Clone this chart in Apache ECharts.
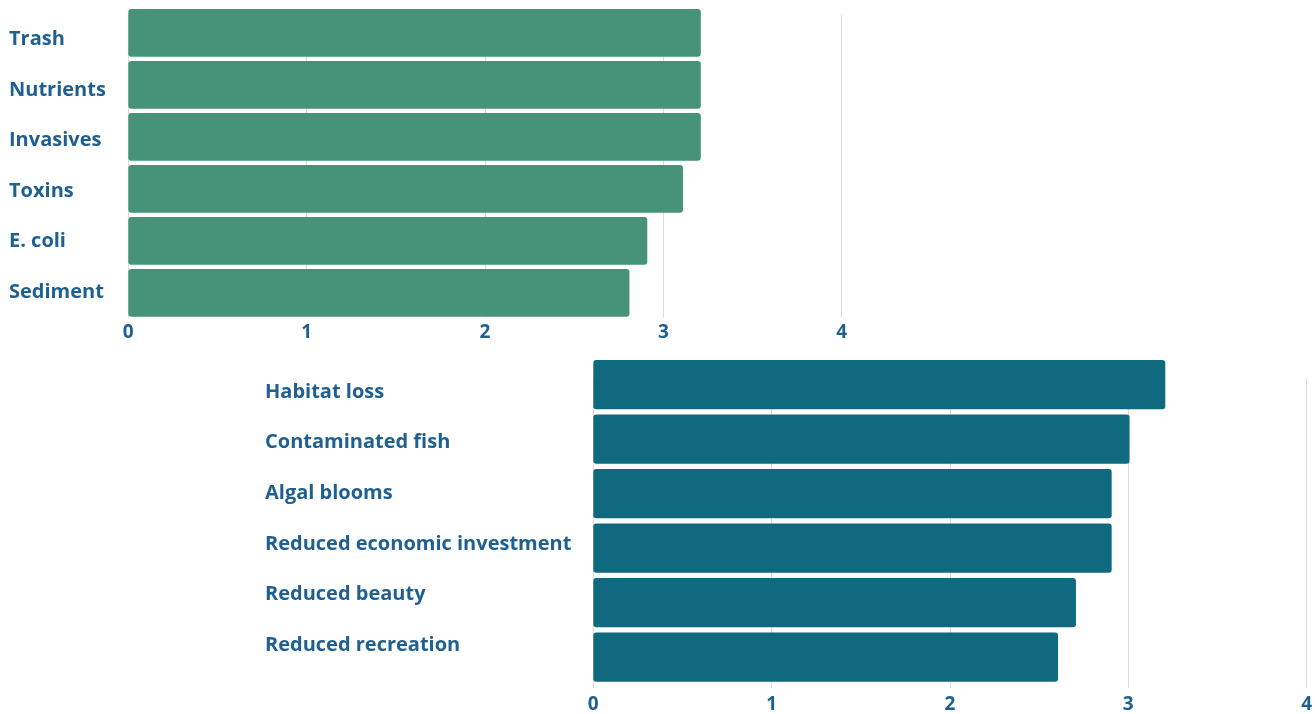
<!DOCTYPE html>
<html>
<head>
<meta charset="utf-8">
<title>Water quality concerns</title>
<script src="https://cdn.jsdelivr.net/npm/echarts@6/dist/echarts.min.js"></script>
<style>
  html, body { margin: 0; padding: 0; background: #ffffff; }
  #chart { width: 1315px; height: 714px; }
</style>
</head>
<body>
<div id="chart"></div>
<script>
// Pollutants (top panel)
const pollutantNames = ['Trash', 'Nutrients', 'Invasives', 'Toxins', 'E. coli', 'Sediment'];
const pollutantScores = [3.21, 3.21, 3.21, 3.11, 2.91, 2.81];

// Impacts (bottom panel)
const impactNames = ['Habitat loss', 'Contaminated fish', 'Algal blooms', 'Reduced economic investment', 'Reduced beauty', 'Reduced recreation'];
const impactScores = [3.2, 3.0, 2.9, 2.9, 2.7, 2.6];

// Shared value-axis ticks
const scoreMin = 0;
const scoreMax = 4;
const scoreStep = 1;

const textColor = '#1f6091';
const gridColor = '#dcdcdc';
const fontFamily = '"Open Sans", "Noto Sans", sans-serif';

const chart = echarts.init(document.getElementById('chart'), null, { renderer: 'canvas' });

const labelFont = { color: textColor, fontFamily: fontFamily, fontWeight: 700, fontSize: 20 };
const tickFont = { color: textColor, fontFamily: fontFamily, fontWeight: 700, fontSize: 19 };

function valueAxis(gridIndex, showGrid, showLabels, labelMargin) {
  return {
    type: 'value', gridIndex: gridIndex,
    min: scoreMin, max: scoreMax, interval: scoreStep,
    axisLine: { show: false }, axisTick: { show: false },
    splitLine: { show: showGrid, lineStyle: { color: gridColor, width: 1 } },
    axisLabel: Object.assign({ show: showLabels, margin: labelMargin || 8 }, tickFont)
  };
}

function categoryAxis(gridIndex, names, showLabels, labelMargin) {
  return {
    type: 'category', gridIndex: gridIndex, data: names, inverse: true,
    axisLine: { show: false }, axisTick: { show: false }, splitLine: { show: false },
    axisLabel: Object.assign({ show: showLabels, align: 'left', margin: labelMargin || 8 }, labelFont)
  };
}

const option = {
  animation: false,
  backgroundColor: '#ffffff',
  grid: [
    // 0: top bars
    { left: 128.3, right: 473.3, top: 6.85, height: 312 },
    // 1: top labels, gridlines and ticks
    { left: 128.3, right: 473.3, top: 14.5, height: 303 },
    // 2: bottom bars
    { left: 593.3, right: 6.7, top: 357.4, height: 327 },
    // 3: bottom category labels
    { left: 593.3, right: 6.7, top: 366.7, height: 303.6 },
    // 4: bottom gridlines and ticks
    { left: 593.3, right: 6.7, top: 378, height: 316 }
  ],
  xAxis: [
    valueAxis(0, false, false),
    valueAxis(1, true, true, 6),
    valueAxis(2, false, false),
    valueAxis(3, false, false),
    valueAxis(4, true, true, 7)
  ],
  yAxis: [
    categoryAxis(0, pollutantNames, false),
    categoryAxis(1, pollutantNames, true, 119.3),
    categoryAxis(2, impactNames, false),
    categoryAxis(3, impactNames, true, 328.3),
    categoryAxis(4, impactNames, false)
  ],
  series: [
    {
      type: 'bar', xAxisIndex: 0, yAxisIndex: 0,
      data: pollutantScores,
      barCategoryGap: '8.3%',
      itemStyle: { color: '#46937a', borderRadius: 3 },
      z: 3
    },
    {
      type: 'bar', xAxisIndex: 2, yAxisIndex: 2,
      data: impactScores,
      barCategoryGap: '9.5%',
      itemStyle: { color: '#0f697f', borderRadius: 3 },
      z: 3
    }
  ]
};

chart.setOption(option);
</script>
</body>
</html>
